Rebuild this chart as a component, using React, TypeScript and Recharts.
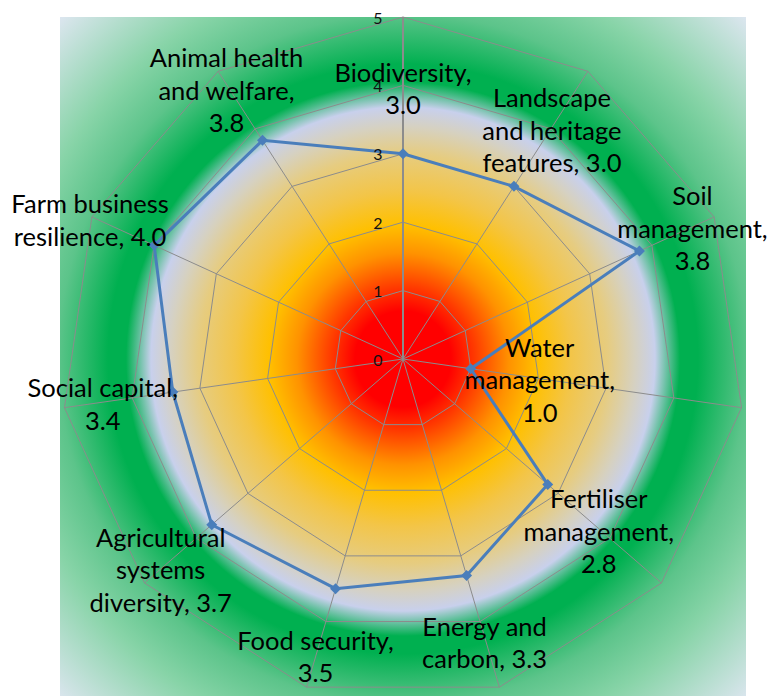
import * as React from "react";
import {
  RadarChart,
  Radar,
  PolarGrid,
  PolarAngleAxis,
  PolarRadiusAxis,
} from "recharts";

const categories = [
  "Biodiversity",
  "Landscape and heritage features",
  "Soil management",
  "Water management",
  "Fertiliser management",
  "Energy and carbon",
  "Food security",
  "Agricultural systems diversity",
  "Social capital",
  "Farm business resilience",
  "Animal health and welfare",
];

const scores = [3.0, 3.0, 3.8, 1.0, 2.8, 3.3, 3.5, 3.7, 3.4, 4.0, 3.8];

const radiusTicks = [0, 1, 2, 3, 4, 5];

// where each data label wraps
const labelLines = [
  ["Biodiversity,", "3.0"],
  ["Landscape", "and heritage", "features, 3.0"],
  ["Soil", "management,", "3.8"],
  ["Water", "management,", "1.0"],
  ["Fertiliser", "management,", "2.8"],
  ["Energy and", "carbon, 3.3"],
  ["Food security,", "3.5"],
  ["Agricultural", "systems", "diversity, 3.7"],
  ["Social capital,", "3.4"],
  ["Farm business", "resilience, 4.0"],
  ["Animal health", "and welfare,", "3.8"],
];

const data = categories.map((name, i) => ({ name, value: scores[i] }));

// label placement relative to its point: [dx, dy of first line]
const labelOffsets: [number, number][] = [
  [0, -82],
  [38, -89],
  [53, -56],
  [69, -22],
  [51, 14],
  [18, 50],
  [-20, 51],
  [-51, 12],
  [-70, -5],
  [-64, -42],
  [-36, -83],
];

const LINE_H = 32.5;
const FONT = "Lato, 'Open Sans', sans-serif";
const BLUE = "#4a7ebb";

function PointWithLabel(props: any) {
  const { cx, cy, index } = props;
  if (cx == null || cy == null) return null;
  const [dx, dy] = labelOffsets[index];
  const lines = labelLines[index];
  const s = 5.5;
  return (
    <g>
      <path
        d={`M${cx},${cy - s}L${cx + s},${cy}L${cx},${cy + s}L${cx - s},${cy}Z`}
        fill={BLUE}
      />
      {lines.map((t, k) => (
        <text
          key={k}
          x={cx + dx}
          y={cy + dy + k * LINE_H}
          textAnchor="middle"
          dominantBaseline="central"
          fontFamily={FONT}
          fontSize={25.5}
          fill="#000"
        >
          {t}
        </text>
      ))}
    </g>
  );
}

function RadiusTick(props: any) {
  const { x, y, payload } = props;
  return (
    <text
      x={x - 25}
      y={y}
      textAnchor="middle"
      dominantBaseline="central"
      fontFamily={FONT}
      fontSize={16}
      fill="#111"
    >
      {payload.value}
    </text>
  );
}

export default function App() {
  return (
    <div
      style={{
        position: "absolute",
        left: 0,
        top: 0,
        width: 772,
        height: 696,
        overflow: "hidden",
        background: "#fff",
      }}
    >
      <div
        style={{
          position: "absolute",
          left: 60,
          top: 17,
          width: 686,
          height: 686,
          background:
            "radial-gradient(circle 485px at 343px 342px, #ff0000 0px, #ff0000 48px, #ff3a00 72px, #ff9200 106px, #ffc000 134px, #f3c548 168px, #e6cc80 205px, #d6d1c0 232px, #c8d0ec 252px, #00b050 277px, #00b050 295px, #5cc48a 345px, #88d4a8 395px, #dde6f0 485px)",
        }}
      />
      <div style={{ position: "absolute", left: 0, top: 0 }}>
        <RadarChart
          width={772}
          height={696}
          data={data}
          cx={403}
          cy={359}
          outerRadius={342}
          margin={{ top: 0, right: 0, bottom: 0, left: 0 }}
        >
          <PolarGrid gridType="polygon" stroke="#8c8c8c" strokeWidth={1} />
          <PolarAngleAxis dataKey="name" tick={false} axisLine={false} />
          <PolarRadiusAxis
            angle={90}
            domain={[0, 5]}
            ticks={radiusTicks}
            tickCount={6}
            tick={<RadiusTick />}
            tickLine={false}
            axisLine={{ stroke: "#8c8c8c", strokeWidth: 2 }}
          />
          <Radar
            dataKey="value"
            stroke={BLUE}
            strokeWidth={3}
            fill="none"
            fillOpacity={0}
            dot={<PointWithLabel />}
            isAnimationActive={false}
          />
        </RadarChart>
      </div>
    </div>
  );
}
